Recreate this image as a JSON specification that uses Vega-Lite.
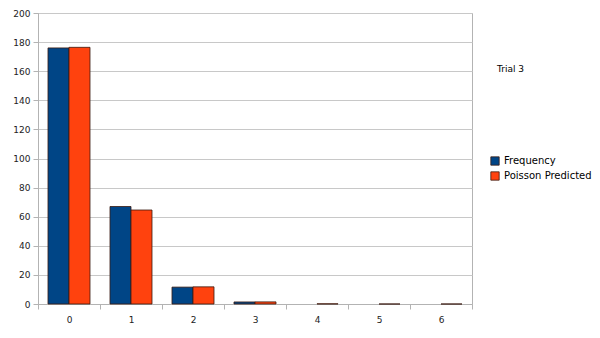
{
  "$schema": "https://vega.github.io/schema/vega-lite/v6.json",
  "autosize": {"type": "none"},
  "width": 434,
  "height": 291,
  "padding": {"left": 38, "top": 13, "right": 128, "bottom": 34},
  "background": "white",
  "title": {"text": "Trial 3", "anchor": "start", "frame": "group", "dx": 459, "dy": 73, "fontSize": 9, "font": "DejaVu Sans", "fontWeight": "normal", "color": "#000000", "baseline": "middle"},
  "data": {"values": [
    {"k": "0", "series": "Frequency", "v": 176},
    {"k": "0", "series": "Poisson Predicted", "v": 176.4},
    {"k": "1", "series": "Frequency", "v": 67},
    {"k": "1", "series": "Poisson Predicted", "v": 64.6},
    {"k": "2", "series": "Frequency", "v": 11.6},
    {"k": "2", "series": "Poisson Predicted", "v": 11.8},
    {"k": "3", "series": "Frequency", "v": 1.4},
    {"k": "3", "series": "Poisson Predicted", "v": 1.45},
    {"k": "4", "series": "Frequency", "v": 0},
    {"k": "4", "series": "Poisson Predicted", "v": 0.13},
    {"k": "5", "series": "Frequency", "v": 0},
    {"k": "5", "series": "Poisson Predicted", "v": 0.01},
    {"k": "6", "series": "Frequency", "v": 0},
    {"k": "6", "series": "Poisson Predicted", "v": 0.001}
  ]},
  "config": {
    "view": {"stroke": "#b3b3b3"},
    "axis": {"labelFont": "DejaVu Sans", "labelFontSize": 9, "labelColor": "#222222", "domainColor": "#b3b3b3", "tickColor": "#b3b3b3", "gridColor": "#c8c8c8", "title": null}
  },
  "mark": {"type": "bar", "stroke": "#3a1a10", "strokeWidth": 0.8},
  "encoding": {
    "x": {"field": "k", "type": "nominal", "scale": {"paddingInner": 0, "paddingOuter": 0},
      "axis": {"labelAngle": 0, "tickBand": "extent", "tickSize": 5, "labelPadding": 6, "grid": false}},
    "xOffset": {"field": "series", "type": "nominal", "scale": {"paddingInner": 0, "paddingOuter": 0.476}},
    "y": {"field": "v", "type": "quantitative", "scale": {"domain": [0, 200], "nice": false},
      "axis": {"values": [0,20,40,60,80,100,120,140,160,180,200], "tickSize": 5, "labelPadding": 3, "grid": true}},
    "strokeOpacity": {"condition": {"test": "datum.v == 0", "value": 0}, "value": 1},
    "color": {"field": "series", "type": "nominal",
      "scale": {"domain": ["Frequency", "Poisson Predicted"], "range": ["#004586", "#ff420e"]},
      "legend": {"orient": "none", "legendX": 452, "legendY": 143, "title": null, "symbolType": "square", "symbolSize": 70, "symbolStrokeColor": "#3a1a10", "symbolStrokeWidth": 0.8, "labelFont": "DejaVu Sans", "labelFontSize": 10, "labelColor": "#000000", "rowPadding": 3, "labelOffset": 4}}
  }
}
